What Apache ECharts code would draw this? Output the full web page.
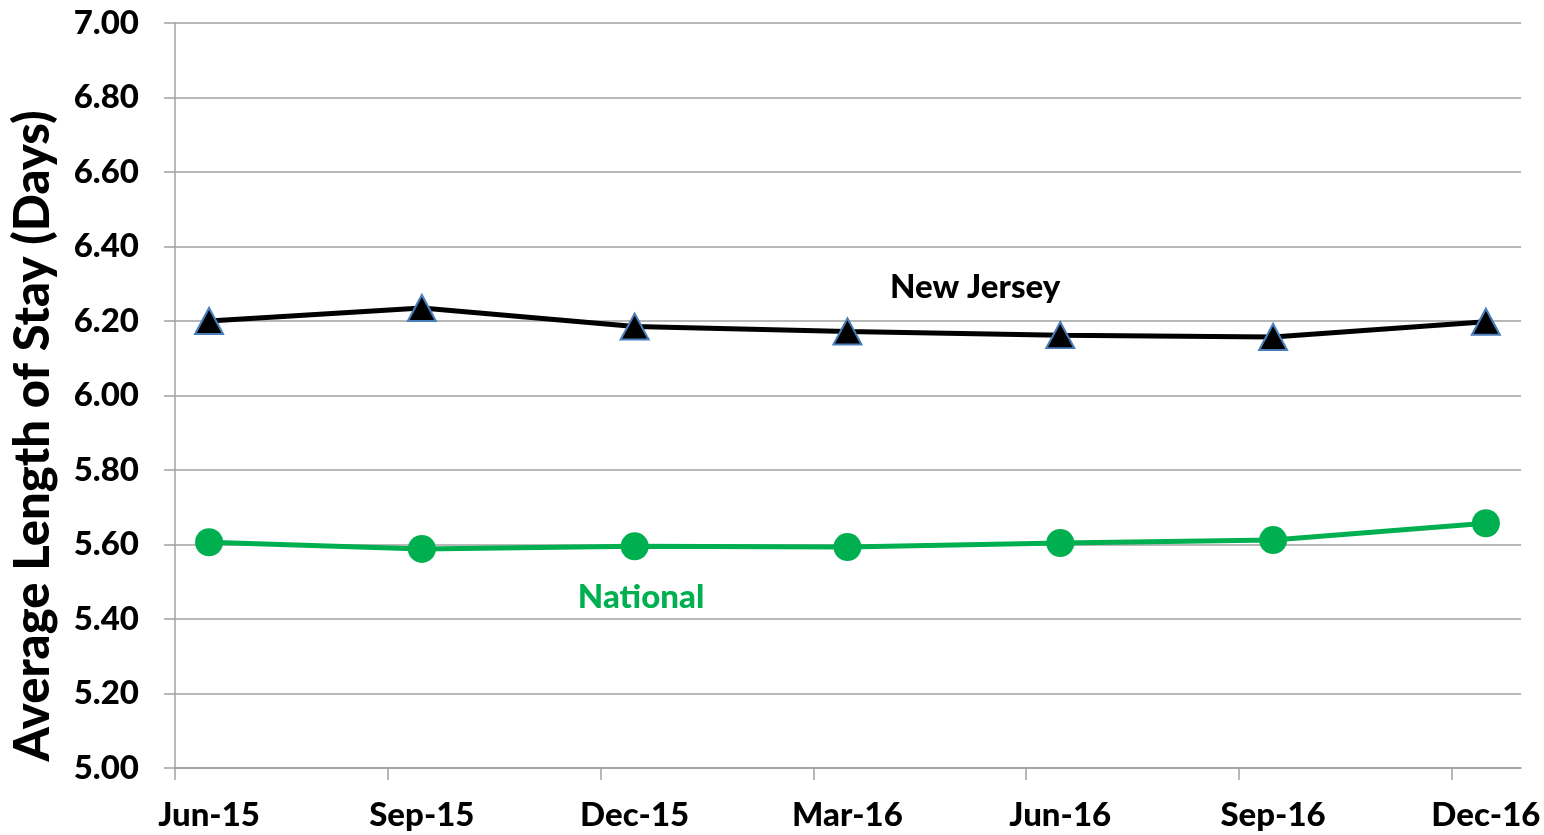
<!DOCTYPE html>
<html>
<head>
<meta charset="utf-8">
<script src="https://cdn.jsdelivr.net/npm/echarts@6/dist/echarts.min.js"></script>
<style>
  html, body { margin: 0; padding: 0; background: #fff; }
  #chart { width: 1544px; height: 835px; }
</style>
</head>
<body>
<div id="chart"></div>
<script>
// quarters shown on the x axis
var categories = ['Jun-15', 'Sep-15', 'Dec-15', 'Mar-16', 'Jun-16', 'Sep-16', 'Dec-16'];
var newJersey = [6.20, 6.235, 6.185, 6.172, 6.162, 6.157, 6.198];
var national = [5.606, 5.588, 5.595, 5.593, 5.604, 5.612, 5.657];

var font = 'Lato, "Open Sans", sans-serif';
var weight = 900;
var gridColor = '#a0a0a0';

// date-like axis: tick marks sit a bit before each quarter's point
var xMin = -0.16, xMax = 6.165;
var tickPos = categories.map(function (c, i) { return xMin + i; });
var labelPos = categories.map(function (c, i) { return i; });

function toPairs(arr) {
  return arr.map(function (v, i) { return [i, v]; });
}

function seriesLabel(text, coord, color) {
  return {
    symbol: 'circle',
    symbolSize: 1,
    itemStyle: { color: 'transparent' },
    data: [{ coord: coord }],
    label: {
      show: true,
      position: 'inside',
      formatter: text,
      color: color,
      fontFamily: font,
      fontWeight: weight,
      fontSize: 33
    }
  };
}

var chart = echarts.init(document.getElementById('chart'));
var option = {
  animation: false,
  grid: { left: 175, right: 23, top: 23, bottom: 67 },
  xAxis: {
    type: 'value',
    min: xMin,
    max: xMax,
    splitLine: { show: false },
    axisLine: { show: true, onZero: false, lineStyle: { color: gridColor, width: 1.5 } },
    axisTick: { show: true, length: 12, customValues: tickPos, lineStyle: { color: gridColor, width: 1.5 } },
    axisLabel: {
      customValues: labelPos,
      margin: 31,
      color: '#000',
      fontFamily: font,
      fontWeight: weight,
      fontSize: 33,
      formatter: function (v) { return categories[Math.round(v)]; }
    }
  },
  yAxis: {
    type: 'value',
    min: 5,
    max: 7,
    interval: 0.2,
    axisLine: { show: true, onZero: false, lineStyle: { color: gridColor, width: 1.5 } },
    axisTick: { show: true, length: 11, lineStyle: { color: gridColor, width: 1.5 } },
    splitLine: { show: true, lineStyle: { color: gridColor, width: 1.5 } },
    axisLabel: {
      margin: 36,
      color: '#000',
      fontFamily: font,
      fontWeight: weight,
      fontSize: 33,
      formatter: function (v) { return v.toFixed(2); }
    }
  },
  graphic: [{
    type: 'text',
    x: 33,
    y: 436,
    rotation: Math.PI / 2,
    style: {
      text: 'Average Length of Stay (Days)',
      fill: '#000',
      font: weight + ' 49px ' + font,
      align: 'center',
      verticalAlign: 'middle'
    }
  }],
  series: [
    {
      name: 'New Jersey',
      type: 'line',
      data: toPairs(newJersey),
      symbol: 'triangle',
      symbolSize: [28, 26],
      lineStyle: { color: '#000', width: 5 },
      itemStyle: { color: '#000', borderColor: '#4a7ebb', borderWidth: 2 },
      markPoint: seriesLabel('New Jersey', [3.6, 6.289], '#000'),
      z: 3
    },
    {
      name: 'National',
      type: 'line',
      data: toPairs(national),
      symbol: 'circle',
      symbolSize: 28,
      lineStyle: { color: '#00b050', width: 5 },
      itemStyle: { color: '#00b050' },
      markPoint: seriesLabel('National', [2.03, 5.459], '#00b050'),
      z: 3
    }
  ]
};
chart.setOption(option);
</script>
</body>
</html>
